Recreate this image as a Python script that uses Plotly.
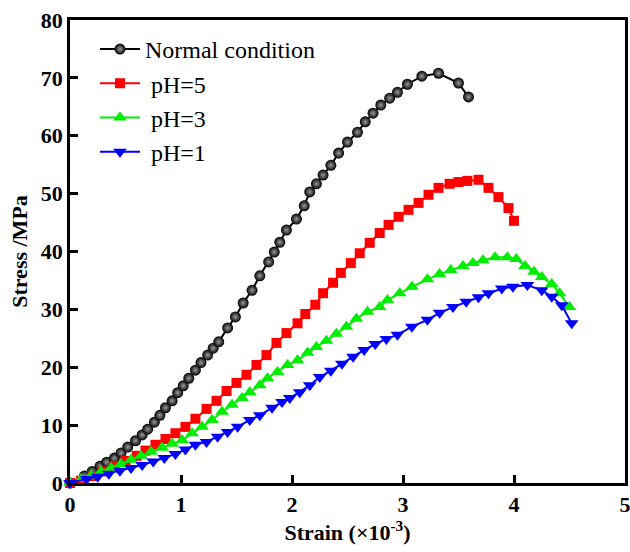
import plotly.graph_objects as go

# Normal condition
normal_x = [0.0, 0.13, 0.2, 0.27, 0.33, 0.40, 0.46, 0.52, 0.59, 0.65, 0.70, 0.76, 0.81, 0.86, 0.92,
            0.97, 1.02, 1.07, 1.13, 1.18, 1.24, 1.29, 1.34, 1.42, 1.49, 1.56, 1.64, 1.71, 1.79, 1.84,
            1.89, 1.95, 2.04, 2.11, 2.16, 2.22, 2.28, 2.35, 2.42, 2.50, 2.59, 2.66, 2.73, 2.80, 2.88,
            2.95, 3.04, 3.17, 3.32, 3.50, 3.59]
normal_y = [0.0, 1.2, 2.0, 2.9, 3.6, 4.3, 5.2, 6.2, 7.3, 8.3, 9.3, 10.5, 11.7, 13.0, 14.2,
            15.6, 16.8, 18.1, 19.5, 20.8, 22.1, 23.3, 24.4, 26.8, 28.7, 31.1, 33.3, 35.8, 38.2, 39.9,
            41.6, 43.7, 45.6, 47.9, 50.3, 51.7, 53.2, 54.9, 57.0, 58.9, 60.6, 62.4, 63.9, 65.3, 66.5,
            67.5, 68.9, 70.3, 70.8, 69.1, 66.7]

# pH=5
ph5_x = [0.0, 0.1, 0.2, 0.3, 0.4, 0.5, 0.6, 0.68, 0.77, 0.86, 0.95, 1.04, 1.13, 1.23, 1.32, 1.41,
         1.50, 1.59, 1.68, 1.77, 1.86, 1.95, 2.05, 2.12, 2.21, 2.28, 2.37, 2.44, 2.53, 2.61, 2.70,
         2.79, 2.87, 2.96, 3.05, 3.14, 3.23, 3.32, 3.42, 3.50, 3.58, 3.68, 3.77, 3.86, 3.95, 4.0]
ph5_y = [0.0, 0.4, 1.2, 2.0, 2.9, 3.8, 4.7, 5.6, 6.6, 7.6, 8.6, 9.7, 11.1, 12.8, 14.2, 15.9,
         17.3, 18.7, 20.4, 22.1, 24.2, 25.9, 27.6, 29.2, 30.8, 32.8, 34.6, 36.3, 38.0, 39.7, 41.5,
         43.2, 44.6, 46.0, 47.2, 48.4, 49.8, 51.0, 51.7, 52.0, 52.2, 52.4, 51.0, 49.4, 47.5, 45.3]

# pH=3
ph3_x = [0.0, 0.1, 0.19, 0.28, 0.37, 0.46, 0.55, 0.64, 0.73, 0.83, 0.92, 1.01, 1.10, 1.19, 1.28,
         1.37, 1.46, 1.55, 1.62, 1.71, 1.78, 1.87, 1.96, 2.05, 2.14, 2.22, 2.31, 2.40, 2.49, 2.58,
         2.68, 2.79, 2.86, 2.97, 3.08, 3.22, 3.33, 3.43, 3.54, 3.63, 3.72, 3.83, 3.94, 4.02, 4.10,
         4.18, 4.25, 4.34, 4.41, 4.50]
ph3_y = [0.0, 0.7, 1.3, 2.0, 2.6, 3.3, 4.0, 4.7, 5.4, 6.1, 6.8, 7.4, 8.6, 9.7, 10.9,
         12.3, 13.5, 14.7, 15.7, 16.9, 18.1, 19.2, 20.4, 21.2, 22.5, 23.5, 24.6, 25.8, 27.0, 28.4,
         29.6, 30.4, 31.6, 32.8, 33.9, 35.2, 36.1, 36.8, 37.5, 38.0, 38.5, 39.0, 39.0, 38.7, 37.5,
         36.5, 35.6, 34.4, 32.8, 30.4]

# pH=1
ph1_x = [0.0, 0.15, 0.25, 0.35, 0.45, 0.55, 0.65, 0.75, 0.85, 0.95, 1.04, 1.13, 1.23, 1.33, 1.42,
         1.51, 1.62, 1.71, 1.82, 1.91, 1.98, 2.07, 2.16, 2.25, 2.35, 2.45, 2.55, 2.65, 2.75, 2.85,
         2.95, 3.08, 3.22, 3.33, 3.45, 3.57, 3.68, 3.77, 3.89, 3.99, 4.12, 4.25, 4.34, 4.43, 4.52]
ph1_y = [0.0, 0.7, 1.1, 1.6, 2.1, 2.6, 3.1, 3.7, 4.3, 5.0, 5.8, 6.6, 7.1, 8.0, 8.8,
         9.7, 10.9, 11.7, 13.0, 14.0, 14.7, 15.7, 16.9, 18.3, 19.4, 20.6, 21.8, 23.0, 24.0, 24.9,
         25.6, 27.0, 28.2, 29.4, 30.4, 31.3, 32.1, 32.8, 33.6, 33.9, 34.2, 33.3, 32.2, 30.7, 27.6]

x_ticks = [0, 1, 2, 3, 4, 5]
y_ticks = [0, 10, 20, 30, 40, 50, 60, 70, 80]

serif = "Liberation Serif, Times New Roman, Times, serif"

fig = go.Figure()
fig.add_trace(go.Scatter(
    x=normal_x, y=normal_y, name="Normal condition", mode="lines+markers",
    line=dict(color="black", width=2),
    marker=dict(symbol="circle", size=11, color="black",
                gradient=dict(type="radial", color="#9a9a9a")),
    cliponaxis=False))
fig.add_trace(go.Scatter(
    x=ph5_x, y=ph5_y, name=" pH=5", mode="lines+markers",
    line=dict(color="#ff0000", width=2),
    marker=dict(symbol="square", size=10, color="#ff0000"),
    cliponaxis=False))
fig.add_trace(go.Scatter(
    x=ph3_x, y=ph3_y, name=" pH=3", mode="lines+markers",
    line=dict(color="#00ee00", width=2),
    marker=dict(symbol="triangle-up", size=12, color="#00ee00"),
    cliponaxis=False))
fig.add_trace(go.Scatter(
    x=ph1_x, y=ph1_y, name=" pH=1", mode="lines+markers",
    line=dict(color="#0000ff", width=2),
    marker=dict(symbol="triangle-down", size=12, color="#0000ff"),
    cliponaxis=False))

axis_common = dict(
    showline=True, linecolor="black", linewidth=2.5, mirror=True,
    ticks="inside", ticklen=8, tickwidth=2.5, tickcolor="black",
    showgrid=False, zeroline=False, automargin=False,
    ticklabeloverflow="allow",
    tickfont=dict(family=serif, size=22, color="black"),
)

fig.update_xaxes(range=[0, 5], tickvals=x_ticks,
                 ticktext=["<b>%d</b>" % v for v in x_ticks], **axis_common,
                 title=dict(text="<b>Strain (×10<sup>-3</sup>)</b>",
                            font=dict(family=serif, size=22, color="black"),
                            standoff=4))
fig.update_yaxes(range=[0, 80], tickvals=y_ticks,
                 ticktext=["<b>%d</b>" % v for v in y_ticks], **axis_common,
                 title=dict(text="<b>Stress /MPa</b>",
                            font=dict(family=serif, size=22, color="black"),
                            standoff=8))

fig.update_layout(
    width=630, height=552,
    margin=dict(l=70, r=5, t=20, b=69),
    plot_bgcolor="white", paper_bgcolor="white",
    legend=dict(x=0.045, y=0.985, xanchor="left", yanchor="top",
                font=dict(family=serif, size=24, color="black"),
                bgcolor="rgba(0,0,0,0)", tracegroupgap=0, itemwidth=40),
    showlegend=True,
)

fig.write_html("out.html")
